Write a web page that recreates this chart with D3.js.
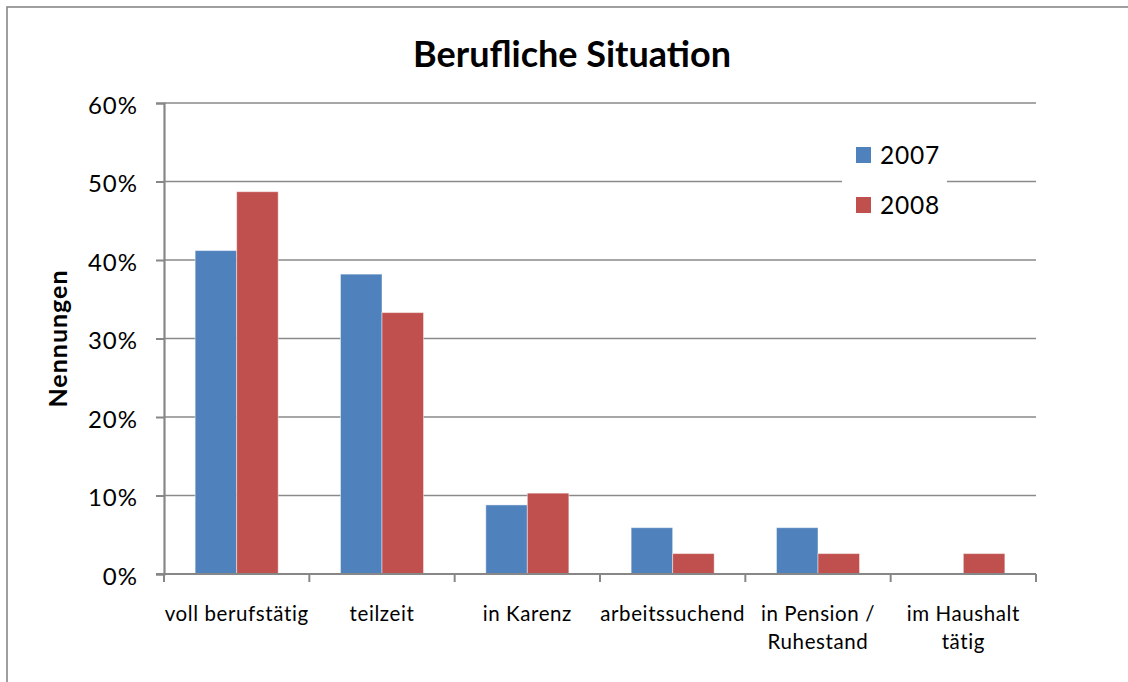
<!DOCTYPE html>
<html>
<head>
<meta charset="utf-8">
<script src="https://cdn.jsdelivr.net/npm/d3@7"></script>
<style>
  html, body { margin: 0; padding: 0; background: #fff; overflow: hidden; }
  svg { display: block; }
  text { font-family: Lato, "Open Sans", sans-serif; fill: #000; }
</style>
</head>
<body>
<svg id="chart" width="1128" height="682"></svg>
<script>
const categories = [["voll berufstätig"], ["teilzeit"], ["in Karenz"], ["arbeitssuchend"], ["in Pension /", "Ruhestand"], ["im Haushalt", "tätig"]];
const seriesNames = ["2007", "2008"];
const values2007 = [0.412, 0.382, 0.088, 0.059, 0.059, 0];
const values2008 = [0.487, 0.333, 0.103, 0.026, 0.026, 0.026];
const yTicks = [0, 0.1, 0.2, 0.3, 0.4, 0.5, 0.6];
const colors = ["#4F81BD", "#C0504D"];
const titleText = "Berufliche Situation";
const yLabelText = "Nennungen";

(function () {
const svg = d3.select("#chart");
const pLeft = 164, pRight = 1036, pTop = 103, pBottom = 574;

// outer border (right and bottom edges lie outside the picture)
svg.append("rect").attr("x", 7).attr("y", 7).attr("width", 1140).attr("height", 700)
  .attr("fill", "none").attr("stroke", "#878787").attr("stroke-width", 1.6);

const catKeys = categories.map(c => c.join(" "));
const x = d3.scaleBand().domain(catKeys).range([pLeft, pRight]).paddingInner(0).paddingOuter(0);
const xs = d3.scaleBand().domain(seriesNames).range([0, x.bandwidth()]).paddingInner(0).paddingOuter(0.75);
const y = d3.scaleLinear().domain([0, 0.6]).range([pBottom, pTop]);

// gridlines
svg.append("g").selectAll("line").data(yTicks.filter(t => t > 0)).join("line")
  .attr("x1", pLeft).attr("x2", pRight)
  .attr("y1", d => y(d)).attr("y2", d => y(d))
  .attr("stroke", "#8a8a8a").attr("stroke-width", 1.5);

// bars
const seriesData = [values2007, values2008];
seriesData.forEach((vals, si) => {
  svg.append("g").selectAll("rect").data(vals).join("rect")
    .attr("x", (d, i) => x(catKeys[i]) + xs(seriesNames[si]))
    .attr("width", xs.bandwidth())
    .attr("y", d => y(d))
    .attr("height", d => y(0) - y(d))
    .attr("fill", colors[si])
    .attr("stroke", "#ffffff").attr("stroke-opacity", 0.45).attr("stroke-width", 1);
});

// y axis
const yAxis = d3.axisLeft(y).tickValues(yTicks).tickFormat(d3.format(".0%")).tickSize(8).tickPadding(18);
const gy = svg.append("g").attr("transform", `translate(${pLeft},0)`).call(yAxis);
gy.select(".domain").attr("stroke", "#878787").attr("stroke-width", 2.2);
gy.selectAll(".tick line").attr("stroke", "#878787").attr("stroke-width", 2);
gy.selectAll(".tick text").attr("font-size", 24).attr("letter-spacing", 1).attr("font-family", "Lato, sans-serif").attr("fill", "#000").attr("dy", "0.42em");

// x axis line and ticks at band boundaries
const boundaries = catKeys.map(k => x(k)).concat([x.range()[1]]);
svg.append("line").attr("x1", pLeft - 8).attr("x2", pRight).attr("y1", pBottom).attr("y2", pBottom)
  .attr("stroke", "#878787").attr("stroke-width", 2.2);
svg.append("g").selectAll("line").data(boundaries).join("line")
  .attr("x1", d => d).attr("x2", d => d).attr("y1", pBottom).attr("y2", pBottom + 8)
  .attr("stroke", "#878787").attr("stroke-width", 2);

// category labels
const labels = svg.append("g").selectAll("text").data(categories).join("text")
  .attr("text-anchor", "middle")
  .attr("font-size", 20.5)
  .attr("letter-spacing", 0.6)
  .attr("x", (d, i) => x(catKeys[i]) + x.bandwidth() / 2)
  .attr("y", 621);
labels.selectAll("tspan").data(d => d).join("tspan")
  .attr("x", function () { return d3.select(this.parentNode).attr("x"); })
  .attr("dy", (d, i) => i === 0 ? 0 : 27.5)
  .text(d => d);

// title
svg.append("text").attr("x", 572).attr("y", 67).attr("text-anchor", "middle")
  .attr("font-size", 36).attr("font-weight", "bold").text(titleText);

// y label
svg.append("text").attr("transform", `translate(67,${(pTop + pBottom) / 2}) rotate(-90)`)
  .attr("text-anchor", "middle").attr("font-size", 25).attr("letter-spacing", 1).attr("font-weight", "bold").text(yLabelText);

// legend
const lg = svg.append("g");
lg.append("rect").attr("x", 842).attr("y", 132).attr("width", 105).attr("height", 95).attr("fill", "#fff");
const ly = d3.scalePoint().domain(seriesNames).range([155, 205]);
seriesNames.forEach((s, i) => {
  lg.append("rect").attr("x", 856).attr("y", ly(s) - 8).attr("width", 15).attr("height", 16).attr("fill", colors[i]);
  lg.append("text").attr("x", 880).attr("y", ly(s) + 9).attr("font-size", 24.5).attr("letter-spacing", 0.8).text(s);
});
})();
</script>
</body>
</html>
